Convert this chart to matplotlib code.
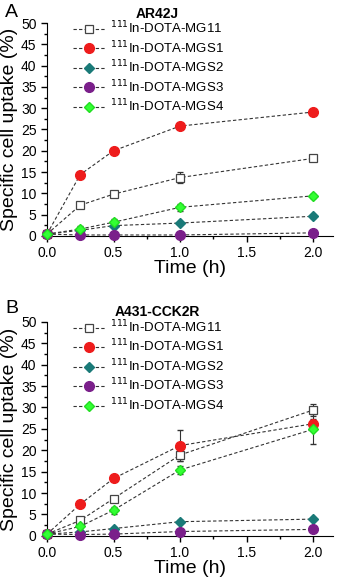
import numpy as np
import matplotlib.pyplot as plt
from matplotlib.ticker import MultipleLocator

plt.rcParams['font.family'] = ['Liberation Sans', 'DejaVu Sans']

# time points (h)
t = [0.0, 0.25, 0.5, 1.0, 2.0]

labels = ['$^{111}$In-DOTA-MG11', '$^{111}$In-DOTA-MGS1', '$^{111}$In-DOTA-MGS2',
          '$^{111}$In-DOTA-MGS3', '$^{111}$In-DOTA-MGS4']

# panel A: AR42J
a_mg11 = [0.4, 7.2, 9.8, 13.7, 18.2]
a_mgs1 = [0.4, 14.4, 20.0, 25.8, 29.1]
a_mgs2 = [0.4, 1.3, 2.4, 3.0, 4.6]
a_mgs3 = [0.4, 0.2, 0.2, 0.2, 0.7]
a_mgs4 = [0.4, 1.6, 3.2, 6.7, 9.4]
a_err = [[0, 0.5, 0.3, 1.2, 0.4], [0, 0.3, 0.3, 0.5, 0.3], [0, 0.3, 0.3, 0.3, 0.3],
         [0, 0.1, 0.1, 0.1, 0.1], [0, 0.8, 0.8, 0.8, 0.4]]

# panel B: A431-CCK2R
b_mg11 = [0.4, 3.6, 8.7, 18.9, 29.4]
b_mgs1 = [0.4, 7.4, 13.4, 21.1, 26.2]
b_mgs2 = [0.4, 0.9, 1.7, 3.3, 3.9]
b_mgs3 = [0.4, 0.3, 0.4, 1.0, 1.5]
b_mgs4 = [0.4, 2.2, 6.0, 15.4, 24.9]
b_err = [[0, 0.6, 0.6, 1.5, 1.5], [0, 0.3, 0.3, 3.6, 1.2], [0, 0.2, 0.2, 0.3, 0.3],
         [0, 0.1, 0.1, 0.2, 0.2], [0, 0.4, 0.8, 1.0, 3.5]]

styles = [dict(marker='s', mfc='white', mec='#444444', mew=0.9, ms=6),
          dict(marker='o', mfc='#ee1c1c', mec='#ee1c1c', ms=7),
          dict(marker='D', mfc='#1a7a78', mec='#1a7a78', ms=5.5),
          dict(marker='o', mfc='#7a1f8a', mec='#7a1f8a', ms=7),
          dict(marker='D', mfc='#33ff33', mec='#22dd22', ms=5.5)]

fig = plt.figure(figsize=(3.43, 5.78), dpi=100)
ax1 = fig.add_axes([0.137, 0.592, 0.834, 0.368])
ax2 = fig.add_axes([0.137, 0.073, 0.834, 0.370])

panels = [(ax1, [a_mg11, a_mgs1, a_mgs2, a_mgs3, a_mgs4], a_err, 'AR42J', 'A', 0.978),
          (ax2, [b_mg11, b_mgs1, b_mgs2, b_mgs3, b_mgs4], b_err, 'A431-CCK2R', 'B', 0.467)]

for ax, series, errs, title, letter, ly in panels:
    handles = []
    for y, e, st, lab in zip(series, errs, styles, labels):
        c = ax.errorbar(t, y, yerr=e, ecolor='#333333', elinewidth=0.8, capsize=2,
                        color='#333333', ls=(0, (3, 2)), lw=0.8, label=lab,
                        clip_on=False, zorder=3, **st)
        handles.append(c.lines[0])
    ax.set_xlim(0, 2.15)
    ax.set_ylim(0, 50)
    ax.xaxis.set_major_locator(MultipleLocator(0.5))
    ax.xaxis.set_minor_locator(MultipleLocator(0.25))
    ax.yaxis.set_major_locator(MultipleLocator(5))
    ax.yaxis.set_minor_locator(MultipleLocator(2.5))
    ax.tick_params(labelsize=10, length=4, width=1, direction='out')
    ax.tick_params(which='minor', length=2.5, width=1)
    ax.xaxis.set_major_formatter(plt.FormatStrFormatter('%.1f'))
    ax.spines['top'].set_visible(False)
    ax.spines['right'].set_visible(False)
    ax.set_xlabel('Time (h)', fontsize=14, labelpad=0)
    ax.set_ylabel('Specific cell uptake (%)', fontsize=14, labelpad=2)
    ax.set_title(title, fontsize=10, fontweight='bold', pad=4, x=0.385)
    fig.text(0.015, ly, letter, fontsize=14, va='center')
    ax.legend(handles, labels, loc='upper left', bbox_to_anchor=(0.072, 1.04),
              frameon=False, fontsize=9.5, handlelength=2.4, handletextpad=0.4,
              labelspacing=0.22, borderaxespad=0)

fig.savefig('out.png', dpi=100)
